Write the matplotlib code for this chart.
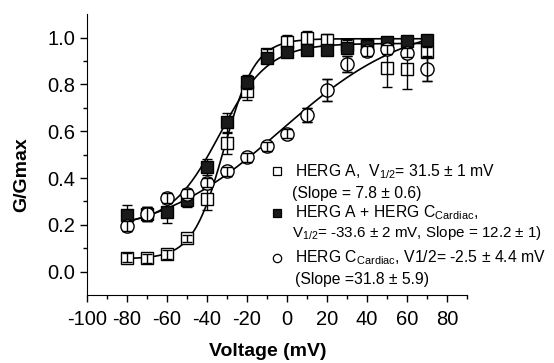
import matplotlib
matplotlib.use("Agg")
import matplotlib.pyplot as plt
import numpy as np

plt.rcParams['font.family'] = ['Liberation Sans', 'DejaVu Sans']
plt.rcParams['mathtext.fontset'] = 'custom'
plt.rcParams['mathtext.rm'] = 'Liberation Sans'
plt.rcParams['mathtext.it'] = 'Liberation Sans'
plt.rcParams['mathtext.default'] = 'regular'
plt.rcParams['axes.unicode_minus'] = False

# voltage steps (mV)
volts = [-80, -70, -60, -50, -40, -30, -20, -10, 0, 10, 20, 30, 40, 50, 60, 70]

# HERG A (open squares)
herg_a = [0.06, 0.057, 0.074, 0.142, 0.31, 0.549, 0.773, 0.93, 0.983, 0.997, 0.989, 0.97, 0.97, 0.87, 0.866, 0.94]
herg_a_err = [0.02, 0.02, 0.02, 0.015, 0.045, 0.045, 0.04, 0.02, 0.03, 0.03, 0.025, 0.02, 0.02, 0.08, 0.085, 0.02]

# HERG A + HERG C cardiac (filled squares)
herg_ac = [0.244, 0.245, 0.255, 0.308, 0.447, 0.638, 0.811, 0.912, 0.94, 0.946, 0.949, 0.957, 0.962, 0.983, 0.986, 0.989]
herg_ac_err = [0.04, 0.03, 0.045, 0.03, 0.035, 0.04, 0.03, 0.02, 0.02, 0.02, 0.02, 0.02, 0.02, 0.02, 0.02, 0.02]

# HERG C cardiac (open circles)
herg_c = [0.195, 0.248, 0.315, 0.333, 0.38, 0.428, 0.489, 0.535, 0.589, 0.67, 0.776, 0.887, 0.943, 0.95, 0.936, 0.866]
herg_c_err = [0.02, 0.03, 0.02, 0.02, 0.02, 0.02, 0.02, 0.02, 0.02, 0.03, 0.045, 0.035, 0.02, 0.02, 0.02, 0.05]

# Boltzmann fit parameters: bottom, top, V1/2, slope
fit_a = (0.055, 0.995, -31.5, 7.8)
fit_ac = (0.20, 0.975, -33.6, 12.2)
fit_c = (0.138, 1.078, -2.5, 31.8)


def boltzmann(v, p):
    bottom, top, vh, k = p
    return bottom + (top - bottom) / (1 + np.exp(-(v - vh) / k))


fig = plt.figure(figsize=(5.54, 3.63), dpi=100)
ax = fig.add_axes([0.157, 0.187, 0.686, 0.774])

vfit = np.linspace(volts[0], volts[-1], 300)
for p in (fit_a, fit_ac, fit_c):
    ax.plot(vfit, boltzmann(vfit, p), color='black', lw=1.2, zorder=2)

ax.plot(volts, herg_a, 's', ms=8, mfc='white', mec='black', mew=1.0, zorder=3)
ax.errorbar(volts, herg_a, yerr=herg_a_err, fmt='none', ecolor='black', elinewidth=1.0, capsize=3.5, capthick=1.0, zorder=3.5)
ax.errorbar(volts, herg_ac, yerr=herg_ac_err, fmt='none', ecolor='black', elinewidth=1.0, capsize=3.5, capthick=1.0, zorder=3.8)
ax.plot(volts, herg_ac, 's', ms=8, mfc='#1a1a1a', mec='black', mew=1.0, zorder=4)
ax.errorbar(volts, herg_c, yerr=herg_c_err, fmt='none', ecolor='black', elinewidth=1.0, capsize=3.5, capthick=1.0, zorder=4.5)
ax.plot(volts, herg_c, 'o', ms=9.5, mfc='white', mec='black', mew=1.0, zorder=5)
ax.errorbar(volts, herg_c, yerr=herg_c_err, fmt='none', ecolor='black', elinewidth=1.0, capsize=3.5, capthick=1.0, zorder=5.5)

# legend drawn as text
fs = 11.3
ax.plot([-4.8], [0.4285], 's', ms=5.5, mfc='white', mec='black', mew=0.9)
ax.text(4.0, 0.4285, r'HERG A,  V$_{1/2}$= 31.5 ± 1 mV', fontsize=fs, va='center')
ax.text(2.4, 0.3336, '(Slope = 7.8 ± 0.6)', fontsize=fs, va='center')
ax.plot([-4.8], [0.2528], 's', ms=5.5, mfc='#1a1a1a', mec='black', mew=0.9)
ax.text(4.0, 0.2528, r'HERG A + HERG C$_{Cardiac}$,', fontsize=fs, va='center')
ax.text(2.4, 0.1647, r'V$_{1/2}$= -33.6 ± 2 mV, Slope = 12.2 ± 1)', fontsize=10.9, va='center')
ax.plot([-4.8], [0.0596], 'o', ms=6, mfc='white', mec='black', mew=0.9)
ax.text(4.0, 0.0596, r'HERG C$_{Cardiac}$, V1/2= -2.5 ± 4.4 mV', fontsize=fs, va='center')
ax.text(4.0, -0.032, '(Slope =31.8 ± 5.9)', fontsize=fs, va='center')

ax.set_xlim(-100, 90)
ax.set_ylim(-0.1, 1.1)
ax.set_xticks(np.arange(-100, 81, 20))
ax.set_xticks(np.arange(-100, 91, 10), minor=True)
ax.set_yticks(np.arange(0, 1.01, 0.2))
ax.set_yticks(np.arange(0, 1.01, 0.1), minor=True)
ax.set_yticklabels(['0.0', '0.2', '0.4', '0.6', '0.8', '1.0'])
ax.tick_params(which='major', direction='out', length=5, width=1, labelsize=14.5)
ax.tick_params(axis='x', which='major', pad=6)
ax.tick_params(which='minor', direction='out', length=3, width=1)
ax.spines['top'].set_visible(False)
ax.spines['right'].set_visible(False)

ax.set_xlabel('Voltage (mV)', fontsize=14, fontweight='bold')
ax.set_ylabel('G/Gmax', fontsize=14, fontweight='bold')
ax.xaxis.set_label_coords(0.475, -0.172)
ax.yaxis.set_label_coords(-0.15, 0.43)

fig.savefig('out.png', dpi=100)
